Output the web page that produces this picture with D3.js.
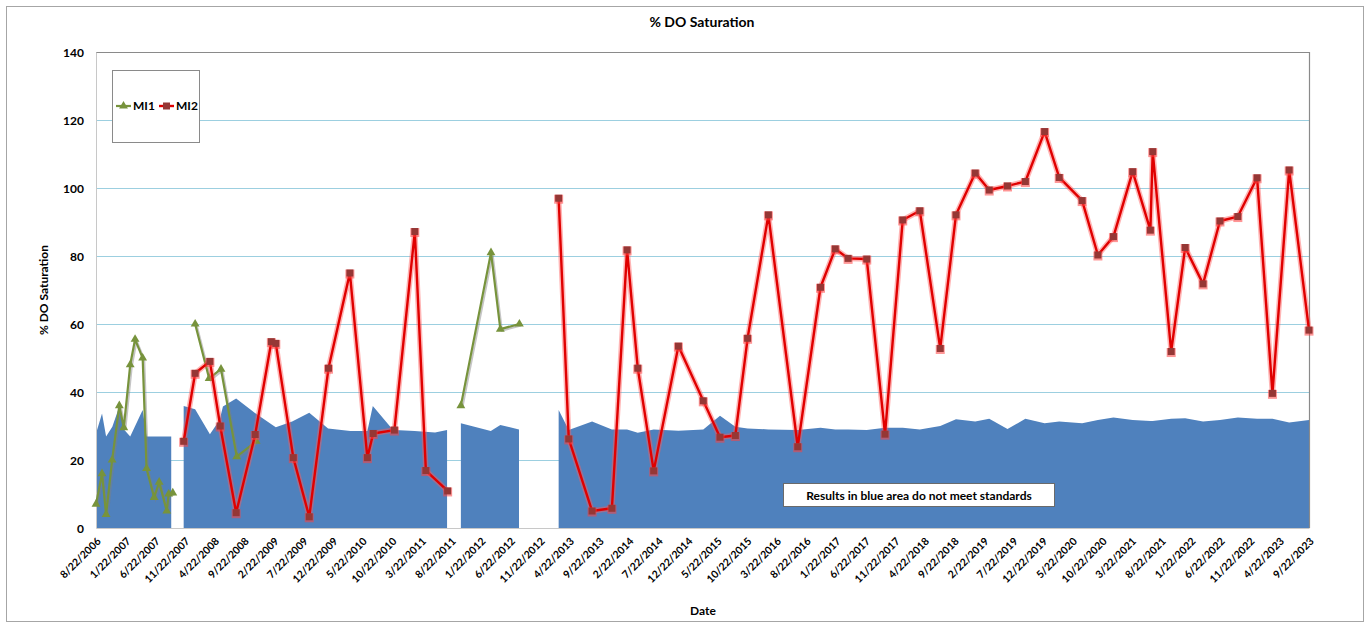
<!DOCTYPE html>
<html>
<head>
<meta charset="utf-8">
<script src="https://cdn.jsdelivr.net/npm/d3@7"></script>
<style>
  html, body { margin: 0; padding: 0; background: #fff; }
  text { font-family: Lato, "Open Sans", "Liberation Sans", sans-serif; font-weight: bold; fill: #000; }
</style>
</head>
<body>
<svg id="chart" width="1367" height="628"></svg>
<script>
// ---------- DATA ----------
const tickLabels = ["8/22/2006","1/22/2007","6/22/2007","11/22/2007","4/22/2008","9/22/2008","2/22/2009","7/22/2009","12/22/2009","5/22/2010","10/22/2010","3/22/2011","8/22/2011","1/22/2012","6/22/2012","11/22/2012","4/22/2013","9/22/2013","2/22/2014","7/22/2014","12/22/2014","5/22/2015","10/22/2015","3/22/2016","8/22/2016","1/22/2017","6/22/2017","11/22/2017","4/22/2018","9/22/2018","2/22/2019","7/22/2019","12/22/2019","5/22/2020","10/22/2020","3/22/2021","8/22/2021","1/22/2022","6/22/2022","11/22/2022","4/22/2023","9/22/2023"];
const yTicks = [0, 20, 40, 60, 80, 100, 120, 140];

// MI1 (null = gap in the line)
const mi1Dates = ["2006-08-22","2006-09-22","2006-10-13","2006-11-13","2006-12-20","2007-01-12","2007-02-14","2007-03-11","2007-04-19","2007-05-09","2007-06-17","2007-07-13","2007-08-21","2007-08-31","2007-09-21","2007-11-01","2008-01-14","2008-03-26","2008-05-26","2008-08-15","2008-11-23","2010-01-01","2011-10-12","2012-03-15","2012-05-02","2012-08-08"];
const mi1Values = [7,16,4,20,36,29.5,48,55.5,50,17.5,9,13.5,5,10,10.3,null,60,44,46.7,21,25.5,null,36,81,58.5,60];

// MI2
const mi2Dates = ["2007-11-16","2008-01-14","2008-03-30","2008-05-22","2008-08-12","2008-11-18","2009-02-09","2009-03-04","2009-06-02","2009-08-23","2009-11-30","2010-03-20","2010-06-18","2010-07-18","2010-11-04","2011-02-17","2011-04-15","2011-08-05","2012-06-01","2013-02-26","2013-04-19","2013-08-17","2013-11-27","2014-02-13","2014-04-09","2014-06-30","2014-11-04","2015-03-12","2015-06-06","2015-08-24","2015-10-26","2016-02-10","2016-07-10","2016-11-04","2017-01-19","2017-03-26","2017-06-30","2017-10-02","2018-01-01","2018-03-30","2018-07-13","2018-10-02","2019-01-09","2019-03-22","2019-06-24","2019-09-24","2020-01-01","2020-03-16","2020-07-12","2020-10-01","2020-12-20","2021-03-29","2021-06-28","2021-07-10","2021-10-13","2021-12-24","2022-03-26","2022-06-21","2022-09-21","2022-12-29","2023-03-18","2023-06-12","2023-09-22"];
const mi2Values = [25.5,45.5,49,30,4.5,27.5,54.8,54.3,20.7,3.3,47,75,20.7,27.8,28.8,87.2,16.9,10.9,null,97,26.2,5,5.8,81.8,47,16.8,53.5,37.4,26.7,27.2,55.8,92.1,23.9,70.8,82.1,79.3,79.1,27.6,90.6,93.3,52.8,92.1,104.4,99.4,100.6,101.9,116.6,103.1,96.3,80.3,85.7,104.8,87.6,110.7,51.9,82.5,71.8,90.3,91.6,103,39.6,105.3,58.2];

// Standard (blue area, null = gap)
const stdDates = ["2006-08-22","2006-09-22","2006-10-13","2006-11-14","2006-12-20","2007-01-13","2007-02-14","2007-04-19","2007-05-09","2007-09-13","2007-10-15","2007-11-16","2008-01-14","2008-03-30","2008-05-19","2008-06-05","2008-08-12","2008-11-15","2009-02-09","2009-03-04","2009-05-27","2009-08-23","2009-11-28","2010-03-22","2010-06-18","2010-07-16","2010-10-14","2010-11-06","2011-02-16","2011-06-01","2011-08-02","2011-09-01","2011-10-12","2012-03-14","2012-05-02","2012-08-06","2012-10-01","2013-02-26","2013-04-19","2013-08-17","2013-11-27","2014-02-13","2014-04-09","2014-06-30","2014-11-04","2015-03-12","2015-06-06","2015-08-24","2015-10-26","2016-02-10","2016-07-10","2016-11-04","2017-01-19","2017-03-26","2017-06-30","2017-10-02","2018-01-01","2018-03-30","2018-07-13","2018-10-02","2019-01-09","2019-03-22","2019-06-24","2019-09-24","2020-01-01","2020-03-16","2020-07-12","2020-10-01","2020-12-20","2021-03-29","2021-06-28","2021-07-10","2021-10-13","2021-12-24","2022-03-26","2022-06-21","2022-09-21","2022-12-29","2023-03-18","2023-06-12","2023-09-22"];
const stdValues = [27.8,33.7,26.9,29.8,35.7,29,26.9,34.7,26.9,26.9,null,35.9,34.9,27.6,31.8,35.7,38.1,33.9,30.5,29.6,31.3,33.9,29.3,28.5,28.5,35.9,29.8,28.8,28.5,28.1,28.8,null,30.8,28.5,30.3,29,null,34.7,28.8,31.3,29,29,28,29,28.6,29,33,29.8,29.3,29,28.8,29.5,29,29,28.8,29.5,29.5,29,30,32,31.3,32.1,29.1,32.1,30.8,31.3,30.8,31.8,32.5,31.8,31.5,31.5,32.1,32.3,31.3,31.8,32.5,32.1,32.1,31,31.8];

// ---------- CHART ----------
const parse = d3.timeParse("%Y-%m-%d");
const parseTick = d3.timeParse("%m/%d/%Y");
const zip = (ds, vs) => ds.map((d, i) => ({ date: parse(d), value: vs[i] }));
const mi1 = zip(mi1Dates, mi1Values);
const mi2 = zip(mi2Dates, mi2Values);
const std = zip(stdDates, stdValues);

const svg = d3.select("#chart");
const L = 96, R = 1309, T = 52, B = 528;

const x = d3.scaleTime()
  .domain([parseTick(tickLabels[0]), parseTick(tickLabels[tickLabels.length - 1])])
  .range([L, R]);
const y = d3.scaleLinear().domain([0, 140]).range([B, T]);

// outer border
svg.append("rect").attr("x", 6.5).attr("y", 6.5).attr("width", 1357).attr("height", 615)
  .attr("fill", "#fff").attr("stroke", "#a6a6a6");

// gridlines
svg.append("g").selectAll("line").data(yTicks.filter(v => v > 0 && v < 140)).join("line")
  .attr("x1", L).attr("x2", R).attr("y1", d => y(d) + 0.5).attr("y2", d => y(d) + 0.5)
  .attr("stroke", "#9ccfe0").attr("stroke-width", 1.2);

// area
const area = d3.area().defined(d => d.value != null)
  .x(d => x(d.date)).y0(y(0)).y1(d => y(d.value));
svg.append("path").datum(std).attr("d", area).attr("fill", "#4f81bd");

// plot border
svg.append("line").attr("x1", L).attr("x2", R).attr("y1", T + 0.5).attr("y2", T + 0.5).attr("stroke", "#8a8a8a").attr("stroke-width", 1.2);
svg.append("line").attr("x1", R + 0.5).attr("x2", R + 0.5).attr("y1", T).attr("y2", B).attr("stroke", "#8a8a8a").attr("stroke-width", 1.2);

// axes
const yAxis = d3.axisLeft(y).tickValues(yTicks).tickSize(0).tickPadding(12);
const gy = svg.append("g").attr("transform", `translate(${L},0)`).call(yAxis);
gy.select(".domain").attr("stroke", "#c8c8c8");
gy.selectAll("text").attr("font-size", 12).attr("font-weight", "bold").attr("dy", "0.35em");

const xAxis = d3.axisBottom(x).tickValues(tickLabels.map(parseTick)).tickSize(0)
  .tickFormat((d, i) => tickLabels[i]);
const gx = svg.append("g").attr("transform", `translate(0,${B})`).call(xAxis);
gx.select(".domain").attr("stroke", "#c8c8c8");
gx.selectAll("text")
  .attr("font-size", 10.5).attr("font-weight", "bold")
  .attr("text-anchor", "end").attr("dy", null).attr("y", 0)
  .attr("transform", "translate(5,14) rotate(-45)");

// titles
svg.append("text").attr("x", 702).attr("y", 27).attr("text-anchor", "middle").attr("font-size", 14).text("% DO Saturation");
svg.append("text").attr("transform", "translate(48,290) rotate(-90)").attr("text-anchor", "middle").attr("font-size", 12).text("% DO Saturation");
svg.append("text").attr("x", 703).attr("y", 615).attr("text-anchor", "middle").attr("font-size", 12).text("Date");

// lines
const line = d3.line().defined(d => d.value != null).x(d => x(d.date)).y(d => y(d.value));
const tri = d3.symbol().type(d3.symbolTriangle).size(34);

// MI1 shadow + line
svg.append("path").datum(mi1).attr("d", line).attr("fill", "none")
  .attr("stroke", "#7f7f7f").attr("stroke-opacity", 0.45).attr("stroke-width", 2.2)
  .attr("transform", "translate(1.5,1.5)");
svg.append("path").datum(mi1).attr("d", line).attr("fill", "none")
  .attr("stroke", "#77933c").attr("stroke-width", 2.2).attr("stroke-linejoin", "round");
svg.append("g").selectAll("path").data(mi1.filter(d => d.value != null)).join("path")
  .attr("d", tri).attr("fill", "#77933c")
  .attr("transform", d => `translate(${x(d.date)},${y(d.value)})`);

// MI2 glow + line
svg.append("path").datum(mi2).attr("d", line).attr("fill", "none")
  .attr("stroke", "#ff5a5a").attr("stroke-opacity", 0.45).attr("stroke-width", 5.5).attr("stroke-linejoin", "round");
svg.append("path").datum(mi2).attr("d", line).attr("fill", "none")
  .attr("stroke", "#e00000").attr("stroke-width", 2.4).attr("stroke-linejoin", "round");
const pts2 = mi2.filter(d => d.value != null);
svg.append("g").selectAll("rect").data(pts2).join("rect")
  .attr("x", d => x(d.date) - 4.5).attr("y", d => y(d.value) - 3.5).attr("width", 9).attr("height", 9)
  .attr("fill", "#ff4040").attr("fill-opacity", 0.55);
svg.append("g").selectAll("rect").data(pts2).join("rect")
  .attr("x", d => x(d.date) - 3.5).attr("y", d => y(d.value) - 3.5).attr("width", 7).attr("height", 7)
  .attr("fill", "#953735");

// legend
const lg = svg.append("g");
lg.append("rect").attr("x", 112.5).attr("y", 70.5).attr("width", 87).attr("height", 72)
  .attr("fill", "#fff").attr("stroke", "#8a8a8a");
lg.append("line").attr("x1", 116).attr("x2", 131).attr("y1", 106).attr("y2", 106).attr("stroke", "#77933c").attr("stroke-width", 2.2);
lg.append("path").attr("d", tri).attr("fill", "#77933c").attr("transform", "translate(123.5,106)");
lg.append("text").attr("x", 133).attr("y", 110).attr("font-size", 12).text("MI1");
lg.append("line").attr("x1", 159).attr("x2", 174).attr("y1", 106).attr("y2", 106).attr("stroke", "#e00000").attr("stroke-width", 2.4);
lg.append("rect").attr("x", 163).attr("y", 102.5).attr("width", 7).attr("height", 7).attr("fill", "#953735");
lg.append("text").attr("x", 176).attr("y", 110).attr("font-size", 12).text("MI2");

// annotation box
svg.append("rect").attr("x", 783.5).attr("y", 483.5).attr("width", 271).attr("height", 23)
  .attr("fill", "#fff").attr("stroke", "#6a6a6a");
svg.append("text").attr("x", 919).attr("y", 499.5).attr("text-anchor", "middle").attr("font-size", 12)
  .text("Results in blue area do not meet standards");
</script>
</body>
</html>
